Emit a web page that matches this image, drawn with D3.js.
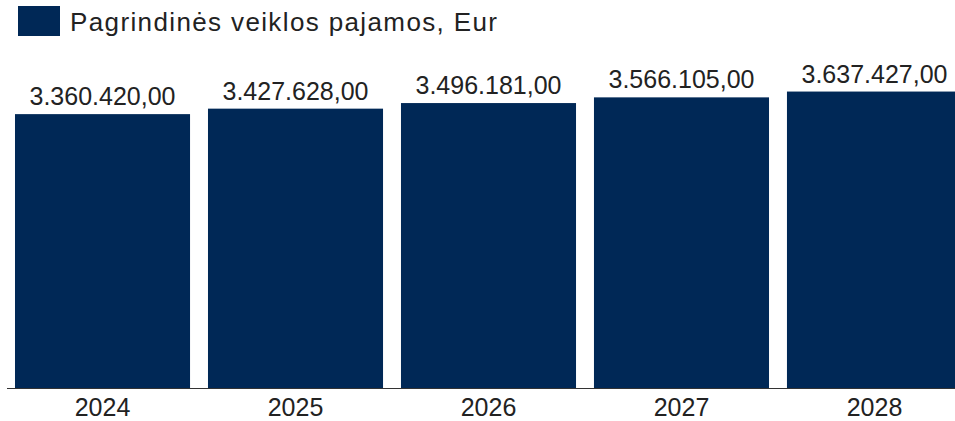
<!DOCTYPE html>
<html>
<head>
<meta charset="utf-8">
<script src="https://cdn.jsdelivr.net/npm/d3@7"></script>
<style>
  body { margin: 0; background: #fff; }
  svg { display: block; font-family: "Liberation Sans", Arial, sans-serif; }
</style>
</head>
<body>
<div id="chart-area"></div>
<script>
// Data
const years  = ["2024", "2025", "2026", "2027", "2028"];
const values = [3360420.00, 3427628.00, 3496181.00, 3566105.00, 3637427.00];
const seriesName = "Pagrindinės veiklos pajamos, Eur";

const W = 955, H = 421;
const barColor = "#002856";

const svg = d3.select("#chart-area")
    .append("svg")
    .attr("width", W)
    .attr("height", H);

/* Scales */
const baseY = 388;
const xScale = d3.scaleBand()
    .domain(years)
    .range([6, 971])
    .paddingInner(0.093)
    .paddingOuter(0.0466);

const yScale = d3.scaleLinear()
    .domain([0, 4000000])
    .range([baseY, 62]);

const fmt = d3.formatLocale({ decimal: ",", thousands: ".", grouping: [3], currency: ["", ""] })
    .format(",.2f");

/* Legend */
const legend = svg.append("g");
legend.append("rect")
    .attr("x", 18).attr("y", 6)
    .attr("width", 42).attr("height", 30)
    .attr("fill", barColor);
legend.append("text")
    .attr("x", 70).attr("y", 31)
    .attr("font-size", 26)
    .attr("textLength", 427)
    .attr("lengthAdjust", "spacing")
    .attr("fill", "#222")
    .text(seriesName);

/* Bars */
svg.selectAll("rect.bar")
    .data(values)
    .enter().append("rect")
    .attr("class", "bar")
    .attr("x", (d, i) => xScale(years[i]))
    .attr("y", d => yScale(d))
    .attr("width", xScale.bandwidth())
    .attr("height", d => baseY - yScale(d))
    .attr("fill", barColor);

/* Value labels */
svg.selectAll("text.val")
    .data(values)
    .enter().append("text")
    .attr("class", "val")
    .attr("x", (d, i) => xScale(years[i]) + xScale.bandwidth() / 2)
    .attr("y", d => yScale(d) - 9)
    .attr("text-anchor", "middle")
    .attr("font-size", 25)
    .attr("fill", "#222")
    .text(d => fmt(d));

/* Axis */
const xAxis = svg.append("g")
    .attr("transform", `translate(0,${baseY})`)
    .call(d3.axisBottom(xScale).tickSize(0).tickPadding(10));
xAxis.select(".domain").remove();
xAxis.append("line")
    .attr("x1", 7).attr("x2", W)
    .attr("y1", 0.5).attr("y2", 0.5)
    .attr("stroke", "#333").attr("stroke-width", 1);
xAxis.selectAll(".tick text")
    .attr("font-size", 25)
    .attr("font-family", "Liberation Sans, Arial, sans-serif")
    .attr("fill", "#222");
</script>
</body>
</html>
